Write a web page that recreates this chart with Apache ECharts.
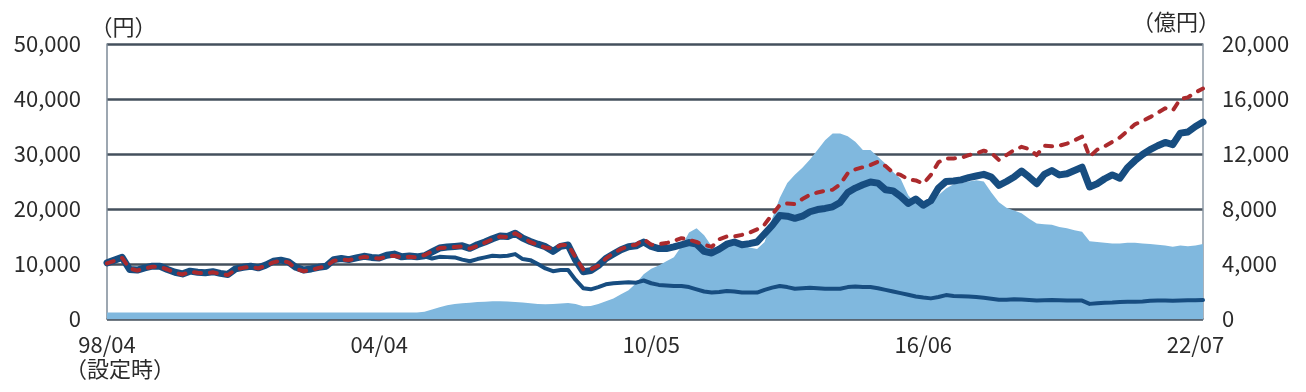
<!DOCTYPE html>
<html><head><meta charset="utf-8">
<script src="https://cdn.jsdelivr.net/npm/echarts@6/dist/echarts.min.js"></script>
<style>html,body{margin:0;padding:0;background:#fff}#c{width:1306px;height:392px}</style>
</head><body><div id="c"></div>
<script>
// x tick positions (sample index) and their labels
const xTickPositions = [0, 36, 72, 108, 144];
const xTickLabels = ['98/04', '04/04', '10/05', '16/06', '22/07'];
const firstLabelNote = '（設定時）';
const leftAxisName = '（円）';
const rightAxisName = '（億円）';

// 基準価額（分配金再投資）thick line, 円
const navReinvest = [
10200,10700,11200,9000,8900,9300,9600,9600,9000,8500,
8200,8700,8500,8400,8600,8300,8100,9100,9400,9600,
9300,9800,10500,10700,10400,9400,8900,9100,9400,9600,
10800,11000,10800,11100,11400,11200,11100,11600,11800,11300,
11450,11300,11500,12200,12900,13100,13200,13300,12850,13500,
14000,14600,15100,15000,15600,14700,14100,13600,13150,12300,
13200,13450,10700,8600,8800,9700,11000,11800,12600,13150,
13300,14000,13200,12800,12800,13100,13500,13900,13600,12300,
12000,12700,13600,14000,13500,13700,14000,15500,17000,18800,
18700,18300,18700,19500,19900,20100,20400,21200,23000,23800,
24400,24900,24700,23500,23300,22300,21000,21800,20700,21500,
23800,25000,25100,25300,25700,26000,26300,25800,24300,25000,
25800,26900,25800,24600,26300,27000,26200,26400,27000,27600,
24000,24600,25500,26200,25600,27500,28800,29900,30800,31500,
32100,31700,33800,34000,35000,35800];

// ベンチマーク red dashed, 円
const benchmark = [
10100,10600,11100,9200,8800,9200,9500,9500,9000,8400,
8100,8600,8400,8300,8500,8200,8000,9000,9300,9500,
9200,9700,10300,10600,10300,9100,8700,8900,9300,9600,
10600,10800,10700,11000,11300,11100,11000,11300,11500,11200,
11300,11200,11600,12300,12900,13000,13100,13200,12800,13300,
13900,14500,15000,14900,15600,14800,14000,13500,13000,12800,
13400,13500,11200,9000,9000,9700,11000,12000,12700,13300,
13500,14500,13500,13600,13800,14200,14700,14400,14000,13500,
13100,14500,15000,15000,15300,15700,16300,17200,19000,20700,
21000,20900,21800,22600,23000,23300,23500,24500,26500,27200,
27600,28000,28600,27800,26600,26200,25400,25200,24600,26200,
28500,29200,29200,29300,29800,30100,30600,30200,28900,29800,
30700,31300,30900,29800,31500,31400,31500,31900,32500,33150,
29500,30800,31400,32200,33000,34200,35400,36000,36700,37500,
38300,37900,40000,40300,41200,41900];

// 基準価額 thin line, 円
const nav = [
10200,10700,11200,9000,8900,9300,9600,9600,9000,8500,
8200,8700,8500,8400,8600,8300,8100,9100,9400,9600,
9300,9800,10500,10700,10400,9400,8900,9100,9400,9600,
10800,11000,10800,11100,11400,11200,11100,11600,11800,11300,
11450,11300,11400,11000,11300,11250,11200,10800,10500,10900,
11200,11500,11400,11500,11800,10900,10700,10000,9200,8700,
8900,8900,7100,5600,5400,5800,6300,6500,6600,6700,
6600,7000,6500,6200,6100,6000,6000,5800,5400,5000,
4800,4900,5100,5000,4800,4800,4800,5300,5700,6000,
5800,5500,5600,5700,5600,5500,5500,5500,5800,5900,
5800,5800,5600,5300,5000,4700,4400,4100,3900,3750,
4000,4350,4200,4150,4100,4000,3850,3700,3500,3500,
3600,3550,3450,3350,3400,3450,3400,3350,3350,3350,
2750,2850,2950,3000,3100,3150,3150,3200,3300,3350,
3350,3300,3350,3400,3400,3450];

// 純資産総額 area, 億円
const netAssets = [
470,470,470,470,470,470,470,470,470,470,
470,470,470,470,470,470,470,470,470,470,
470,470,470,470,470,470,470,470,470,470,
470,470,470,470,470,470,470,470,470,470,
470,480,520,700,850,1000,1090,1150,1190,1230,
1260,1300,1300,1280,1240,1200,1150,1100,1070,1100,
1130,1170,1100,920,950,1100,1300,1500,1800,2100,
2600,3250,3650,3900,4200,4500,5300,6300,6600,6100,
5300,5100,5300,5400,5350,5200,5100,5600,7300,8800,
9900,10500,11000,11600,12300,13000,13500,13500,13300,12900,
12300,12300,11800,11300,10700,10200,9000,8400,8200,8300,
9000,9500,9800,9900,10000,10100,10000,9200,8500,8100,
7900,7700,7300,6950,6900,6850,6700,6600,6450,6350,
5650,5600,5550,5500,5500,5550,5550,5500,5450,5400,
5350,5250,5350,5300,5350,5450];

const FONT = "'Noto Sans CJK JP', 'Noto Sans', sans-serif";
const TXT = '#2b2b2b';
const pairs = arr => arr.map((v, i) => [i, v]);
const fmt = v => Number(v).toLocaleString('en-US');

const chart = echarts.init(document.getElementById('c'), null, {renderer: 'canvas'});
chart.setOption({
  animation: false,
  backgroundColor: '#fff',
  grid: {left: 107, right: 103, top: 44, bottom: 73, containLabel: false},
  xAxis: {
    type: 'value', min: 0, max: navReinvest.length - 1,
    axisLine: {show: true, onZero: false, lineStyle: {color: '#5f6c79', width: 1.5}},
    axisTick: {show: true, inside: true, length: 6, customValues: xTickPositions, lineStyle: {color: '#5f6c79', width: 1}},
    splitLine: {show: false},
    axisLabel: {
      customValues: xTickPositions, margin: 14,
      fontFamily: FONT, fontSize: 22, color: TXT, lineHeight: 24,
      formatter: v => {
        const k = xTickPositions.indexOf(v);
        if (k === 0) return '{a|' + xTickLabels[0] + '}\n{b|' + firstLabelNote + '}';
        return k >= 0 ? xTickLabels[k] : '';
      },
      rich: {
        a: {fontFamily: FONT, fontSize: 22, color: TXT, lineHeight: 24},
        b: {fontFamily: FONT, fontSize: 22, color: TXT, lineHeight: 24, padding: [0, 0, 0, 26]}
      }
    }
  },
  yAxis: [{
    type: 'value', min: 0, max: 50000, interval: 10000, position: 'left',
    name: leftAxisName, nameLocation: 'end', nameGap: 6,
    nameTextStyle: {fontFamily: FONT, fontSize: 22, color: TXT, align: 'center', verticalAlign: 'bottom', padding: [0, 0, 0, 33]},
    axisLine: {show: true, lineStyle: {color: '#7d8a97', width: 1.5}},
    axisTick: {show: false},
    axisLabel: {fontFamily: FONT, fontSize: 22, color: TXT, margin: 26, formatter: fmt},
    splitLine: {show: true, lineStyle: {color: '#44505d', width: 2.5}}
  }, {
    type: 'value', min: 0, max: 20000, interval: 4000, position: 'right',
    name: rightAxisName, nameLocation: 'end', nameGap: 6,
    nameTextStyle: {fontFamily: FONT, fontSize: 22, color: TXT, align: 'center', verticalAlign: 'bottom', padding: [0, 54, 0, 0]},
    axisLine: {show: true, lineStyle: {color: '#8d99a5', width: 1.5}},
    axisTick: {show: false},
    axisLabel: {fontFamily: FONT, fontSize: 22, color: TXT, margin: 19, formatter: fmt},
    splitLine: {show: false}
  }],
  series: [{
    name: '純資産総額', type: 'line', yAxisIndex: 1, data: pairs(netAssets),
    showSymbol: false, lineStyle: {width: 0}, areaStyle: {color: '#80b8de', opacity: 1}, z: 1
  }, {
    name: '基準価額', type: 'line', yAxisIndex: 0, data: pairs(nav),
    showSymbol: false, lineStyle: {color: '#174d80', width: 4, join: 'round', cap: 'round'}, z: 2
  }, {
    name: '基準価額（分配金再投資）', type: 'line', yAxisIndex: 0, data: pairs(navReinvest),
    showSymbol: false, lineStyle: {color: '#174d80', width: 7, join: 'round', cap: 'round'}, z: 3
  }, {
    name: 'ベンチマーク', type: 'line', yAxisIndex: 0, data: pairs(benchmark),
    showSymbol: false, lineStyle: {color: '#ab2a2d', width: 4, type: [7, 9], cap: 'round', join: 'round'}, z: 4
  }]
});
</script>
</body></html>
